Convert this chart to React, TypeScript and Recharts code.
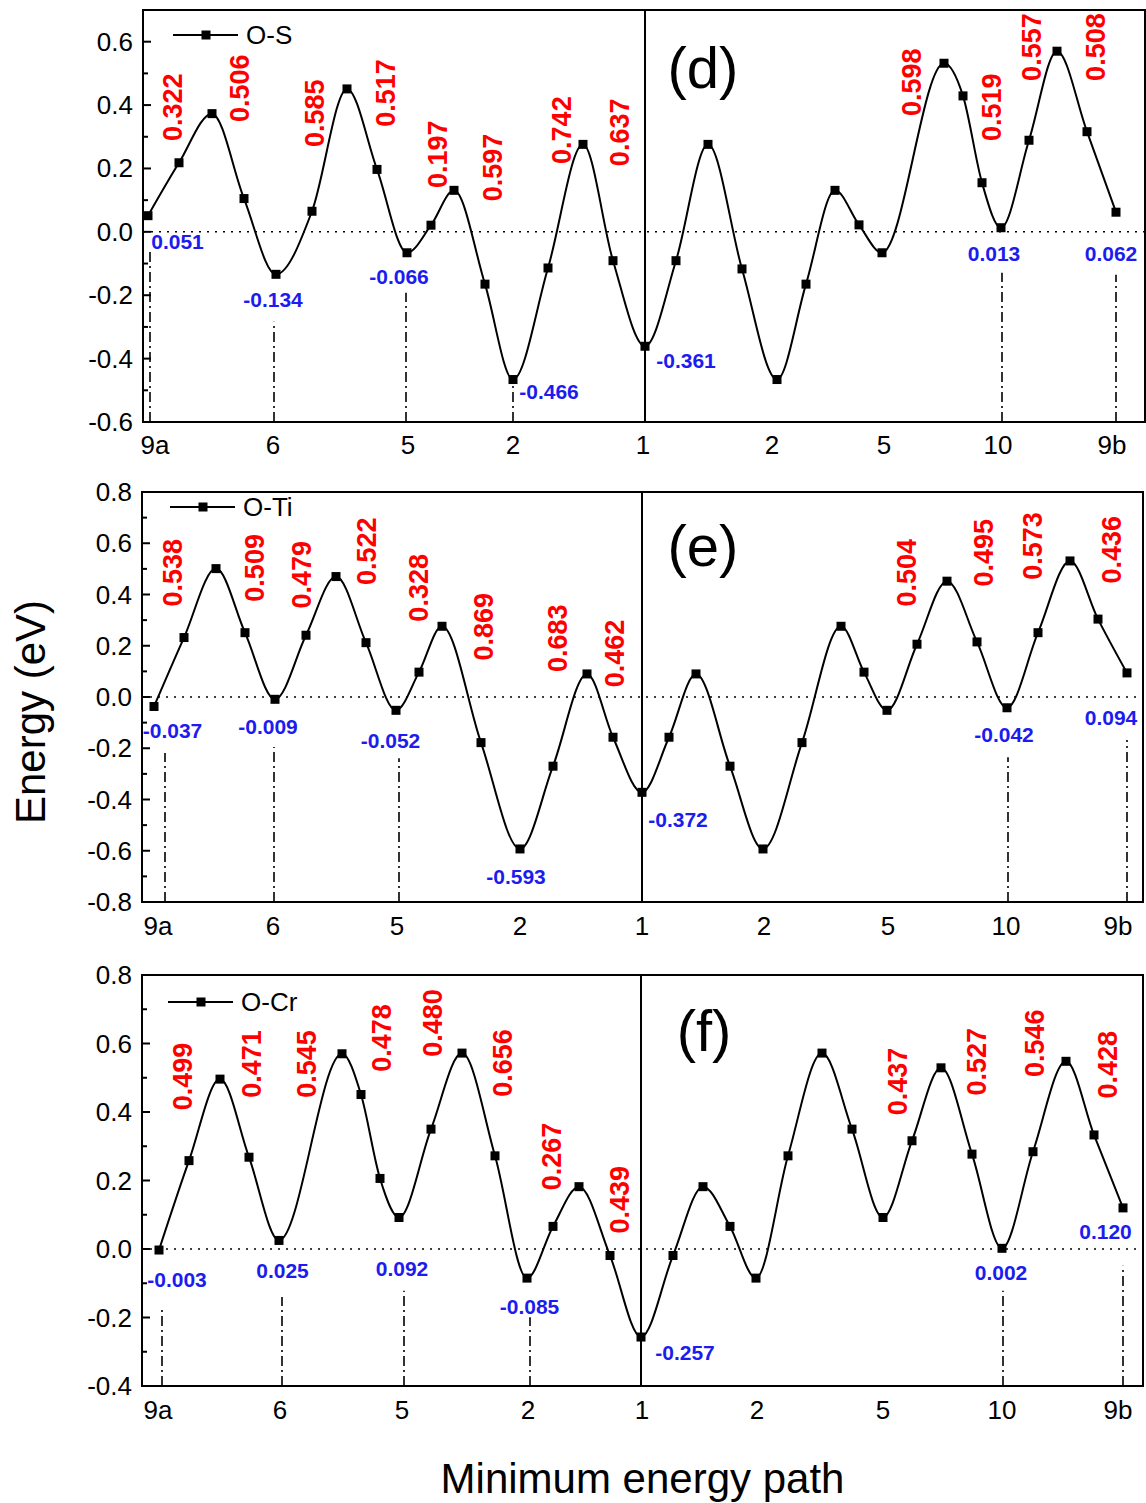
import {
  Legend,
  Line,
  LineChart,
  ReferenceArea,
  ReferenceDot,
  ReferenceLine,
  XAxis,
  YAxis,
} from "recharts";

// site labels along the minimum energy path
const pathSites = ["9a", "6", "5", "2", "1", "2", "5", "10", "9b"];

// ---- (d) O-S ----
const coordD = [0.5, 3.6, 6.9, 10.1, 13.3, 16.9, 20.4, 23.4, 26.4, 28.8, 31.1, 34.2, 37.0, 40.5, 44.0, 47.0, 50.2, 53.3, 56.5, 59.9, 63.4, 66.3, 69.2, 71.6, 73.9, 80.1, 82.0, 83.9, 85.8, 88.6, 91.4, 94.4, 97.3];
const energyD = [0.051, 0.218, 0.373, 0.105, -0.134, 0.065, 0.451, 0.197, -0.066, 0.021, 0.131, -0.165, -0.466, -0.114, 0.276, -0.091, -0.361, -0.091, 0.276, -0.117, -0.466, -0.165, 0.131, 0.022, -0.066, 0.532, 0.429, 0.155, 0.013, 0.289, 0.570, 0.316, 0.062];
const siteTicksD = [1.2, 13.0, 26.5, 37.0, 50.0, 62.9, 74.1, 85.5, 96.9];
const yTicksD = [-0.6, -0.5, -0.4, -0.3, -0.2, -0.1, 0, 0.1, 0.2, 0.3, 0.4, 0.5, 0.6];
const dropsD = [
  { x: 0.7, top: -0.056 },
  { x: 13.1, top: -0.284 },
  { x: 26.3, top: -0.192 },
  { x: 37.0, top: -0.477 },
  { x: 85.9, top: -0.129 },
  { x: 97.3, top: -0.135 },
];
const minimaD = [
  { text: "0.051", x: 3.45, y: -0.031 },
  { text: "-0.134", x: 13.0, y: -0.214 },
  { text: "-0.066", x: 25.6, y: -0.141 },
  { text: "-0.466", x: 40.6, y: -0.505 },
  { text: "-0.361", x: 54.3, y: -0.407 },
  { text: "0.013", x: 85.1, y: -0.069 },
  { text: "0.062", x: 96.8, y: -0.069 },
];
const barriersD = [
  { text: "0.322", x: 3.0, y: 0.393 },
  { text: "0.506", x: 9.7, y: 0.453 },
  { text: "0.585", x: 17.2, y: 0.374 },
  { text: "0.517", x: 24.3, y: 0.438 },
  { text: "0.197", x: 29.5, y: 0.245 },
  { text: "0.597", x: 35.0, y: 0.203 },
  { text: "0.742", x: 41.9, y: 0.321 },
  { text: "0.637", x: 47.7, y: 0.314 },
  { text: "0.598", x: 76.9, y: 0.472 },
  { text: "0.519", x: 84.9, y: 0.393 },
  { text: "0.557", x: 88.9, y: 0.583 },
  { text: "0.508", x: 95.3, y: 0.583 },
];

// ---- (e) O-Ti ----
const coordE = [1.2, 4.2, 7.4, 10.3, 13.3, 16.4, 19.4, 22.4, 25.4, 27.7, 30.0, 33.9, 37.8, 41.1, 44.5, 47.1, 50.0, 52.7, 55.4, 58.8, 62.1, 66.0, 69.9, 72.2, 74.5, 77.5, 80.5, 83.5, 86.5, 89.6, 92.8, 95.6, 98.5];
const energyE = [-0.037, 0.232, 0.501, 0.251, -0.009, 0.241, 0.470, 0.212, -0.052, 0.097, 0.276, -0.178, -0.593, -0.270, 0.090, -0.157, -0.372, -0.157, 0.090, -0.270, -0.593, -0.178, 0.276, 0.097, -0.052, 0.206, 0.452, 0.215, -0.042, 0.251, 0.531, 0.304, 0.094];
const siteTicksE = [1.6, 13.1, 25.5, 37.8, 50.0, 62.2, 74.6, 86.4, 97.6];
const yTicksE = [-0.8, -0.7, -0.6, -0.5, -0.4, -0.3, -0.2, -0.1, 0, 0.1, 0.2, 0.3, 0.4, 0.5, 0.6, 0.7, 0.8];
const dropsE = [
  { x: 2.3, top: -0.219 },
  { x: 13.2, top: -0.195 },
  { x: 25.7, top: -0.239 },
  { x: 86.6, top: -0.235 },
  { x: 98.5, top: -0.168 },
];
const minimaE = [
  { text: "-0.037", x: 3.05, y: -0.129 },
  { text: "-0.009", x: 12.6, y: -0.116 },
  { text: "-0.052", x: 24.85, y: -0.168 },
  { text: "-0.593", x: 37.4, y: -0.699 },
  { text: "-0.372", x: 53.6, y: -0.478 },
  { text: "-0.042", x: 86.2, y: -0.148 },
  { text: "0.094", x: 96.9, y: -0.079 },
];
const barriersE = [
  { text: "0.538", x: 3.1, y: 0.485 },
  { text: "0.509", x: 11.3, y: 0.504 },
  { text: "0.479", x: 16.0, y: 0.477 },
  { text: "0.522", x: 22.5, y: 0.569 },
  { text: "0.328", x: 27.7, y: 0.426 },
  { text: "0.869", x: 34.2, y: 0.274 },
  { text: "0.683", x: 41.6, y: 0.229 },
  { text: "0.462", x: 47.3, y: 0.17 },
  { text: "0.504", x: 76.5, y: 0.485 },
  { text: "0.495", x: 84.2, y: 0.563 },
  { text: "0.573", x: 89.1, y: 0.589 },
  { text: "0.436", x: 97.0, y: 0.575 },
];

// ---- (f) O-Cr ----
const coordF = [1.7, 4.7, 7.8, 10.7, 13.7, 20.0, 21.9, 23.8, 25.7, 28.9, 32.0, 35.3, 38.5, 41.1, 43.7, 46.8, 49.9, 53.1, 56.1, 58.8, 61.4, 64.6, 68.0, 71.0, 74.1, 77.0, 79.9, 83.0, 86.0, 89.1, 92.4, 95.2, 98.1];
const energyF = [-0.003, 0.258, 0.496, 0.268, 0.025, 0.570, 0.451, 0.206, 0.092, 0.350, 0.572, 0.272, -0.085, 0.066, 0.182, -0.019, -0.257, -0.019, 0.182, 0.066, -0.085, 0.272, 0.572, 0.350, 0.092, 0.316, 0.529, 0.277, 0.002, 0.284, 0.548, 0.333, 0.120];
const siteTicksF = [1.6, 13.8, 26.0, 38.6, 50.0, 61.5, 74.1, 86.0, 97.6];
const yTicksF = [-0.4, -0.3, -0.2, -0.1, 0, 0.1, 0.2, 0.3, 0.4, 0.5, 0.6, 0.7, 0.8];
const dropsF = [
  { x: 2.0, top: -0.17 },
  { x: 14.0, top: -0.14 },
  { x: 26.2, top: -0.122 },
  { x: 38.8, top: -0.199 },
  { x: 86.1, top: -0.122 },
  { x: 98.1, top: -0.049 },
];
const minimaF = [
  { text: "-0.003", x: 3.5, y: -0.088 },
  { text: "0.025", x: 14.05, y: -0.063 },
  { text: "0.092", x: 26.0, y: -0.058 },
  { text: "-0.085", x: 38.75, y: -0.168 },
  { text: "-0.257", x: 54.3, y: -0.302 },
  { text: "0.002", x: 85.9, y: -0.07 },
  { text: "0.120", x: 96.35, y: 0.052 },
];
const barriersF = [
  { text: "0.499", x: 4.1, y: 0.504 },
  { text: "0.471", x: 11.0, y: 0.54 },
  { text: "0.545", x: 16.5, y: 0.54 },
  { text: "0.478", x: 24.0, y: 0.616 },
  { text: "0.480", x: 29.1, y: 0.66 },
  { text: "0.656", x: 36.1, y: 0.543 },
  { text: "0.267", x: 41.0, y: 0.27 },
  { text: "0.439", x: 47.8, y: 0.144 },
  { text: "0.437", x: 75.6, y: 0.489 },
  { text: "0.527", x: 83.5, y: 0.547 },
  { text: "0.546", x: 89.3, y: 0.601 },
  { text: "0.428", x: 96.6, y: 0.538 },
];

const FONT = "'Liberation Sans', Arial, sans-serif";

const panels = [
  {
    name: "O-S", letter: "(d)", letterAt: { x: 56.0, y: 0.52 },
    coord: coordD, energy: energyD, siteTicks: siteTicksD, yTicks: yTicksD,
    drops: dropsD, minima: minimaD, barriers: barriersD,
    centre: 50.2, xMax: 100.2, yDomain: [-0.6, 0.7] as [number, number],
    top: 0, height: 465, margin: { top: 10, right: 1, bottom: 8, left: 63 },
    legend: { left: 173, top: 20 }, xTickMargin: 14,
  },
  {
    name: "O-Ti", letter: "(e)", letterAt: { x: 56.1, y: 0.592 },
    coord: coordE, energy: energyE, siteTicks: siteTicksE, yTicks: yTicksE,
    drops: dropsE, minima: minimaE, barriers: barriersE,
    centre: 50.0, xMax: 100.1, yDomain: [-0.8, 0.8] as [number, number],
    top: 470, height: 470, margin: { top: 22, right: 3, bottom: 3, left: 62 },
    legend: { left: 170, top: 22 }, xTickMargin: 15, yTitle: true,
  },
  {
    name: "O-Cr", letter: "(f)", letterAt: { x: 56.2, y: 0.637 },
    coord: coordF, energy: energyF, siteTicks: siteTicksF, yTicks: yTicksF,
    drops: dropsF, minima: minimaF, barriers: barriersF,
    centre: 49.9, xMax: 100.1, yDomain: [-0.4, 0.8] as [number, number],
    top: 950, height: 553, margin: { top: 25, right: 3, bottom: 82, left: 62 },
    legend: { left: 168, top: 37 }, xTickMargin: 15, xTitle: true,
  },
];

function YTick(props: any) {
  const { x, y, payload } = props;
  const v = payload.value;
  const major = Math.round(v * 10) % 2 === 0;
  const axisX = x + 10;
  return (
    <g>
      <line x1={axisX} x2={axisX + (major ? 8 : 5)} y1={y} y2={y} stroke="#000" strokeWidth={2} />
      {major && (
        <text x={x} y={y} textAnchor="end" dominantBaseline="central" fontSize={26} fill="#000">
          {v.toFixed(1)}
        </text>
      )}
    </g>
  );
}

const squareDot = (p: any) => (
  <rect key={`sq-${p.index}`} x={p.cx - 4.5} y={p.cy - 4.5} width={9} height={9} fill="#000" />
);

function LegendBox({ name }: { name: string }) {
  return (
    <svg width={150} height={30} style={{ display: "block" }}>
      <line x1={0} y1={15} x2={65} y2={15} stroke="#000" strokeWidth={2} />
      <rect x={28.5} y={10.5} width={9} height={9} fill="#000" />
      <text x={73} y={15} dominantBaseline="central" fontSize={26} fill="#000" fontFamily={FONT}>
        {name}
      </text>
    </svg>
  );
}

function Panel({ cfg }: { cfg: (typeof panels)[number] }) {
  const data = cfg.coord.map((x, i) => ({ x, e: cfg.energy[i] }));
  const [yMin, yMax] = cfg.yDomain;
  return (
    <div style={{ position: "absolute", left: 0, top: cfg.top }}>
      <LineChart width={1146} height={cfg.height} data={data} margin={cfg.margin}>
        <XAxis
          dataKey="x"
          type="number"
          domain={[0, cfg.xMax]}
          ticks={cfg.siteTicks}
          interval={0}
          tickFormatter={(_v: number, i: number) => pathSites[i]}
          tickLine={false}
          tickSize={0}
          tickMargin={cfg.xTickMargin}
          axisLine={false}
          height={35}
          tick={{ fontSize: 26, fill: "#000" }}
          allowDataOverflow
          label={
            (cfg as any).xTitle
              ? (p: any) => (
                  <text
                    x={p.viewBox.x + p.viewBox.width / 2}
                    y={p.viewBox.y + 92}
                    textAnchor="middle"
                    dominantBaseline="central"
                    fontSize={42}
                    fill="#000"
                  >
                    Minimum energy path
                  </text>
                )
              : undefined
          }
        />
        <YAxis
          type="number"
          domain={cfg.yDomain}
          ticks={cfg.yTicks}
          interval={0}
          tickLine={false}
          tickSize={0}
          tickMargin={10}
          axisLine={false}
          width={80}
          tick={(p: any) => <YTick {...p} />}
          allowDataOverflow
          label={
            (cfg as any).yTitle
              ? (p: any) => (
                  <text
                    transform={`translate(${p.viewBox.x - 32}, ${p.viewBox.y + p.viewBox.height / 2 + 15}) rotate(-90)`}
                    textAnchor="middle"
                    dominantBaseline="central"
                    fontSize={42}
                    fill="#000"
                  >
                    Energy (eV)
                  </text>
                )
              : undefined
          }
        />
        <ReferenceLine y={0} stroke="#000" strokeWidth={1.5} strokeDasharray="2 6" />
        <ReferenceLine x={cfg.centre} stroke="#000" strokeWidth={2} />
        {cfg.drops.map((d, i) => (
          <ReferenceLine
            key={`drop-${i}`}
            segment={[{ x: d.x, y: yMin }, { x: d.x, y: d.top }]}
            stroke="#000"
            strokeWidth={1.6}
            strokeDasharray="10 4 2 4"
          />
        ))}
        <ReferenceArea x1={0} x2={cfg.xMax} y1={yMin} y2={yMax} fill="none" stroke="#000" strokeWidth={2} />
        <Line
          dataKey="e"
          name={cfg.name}
          type="monotoneX"
          stroke="#000"
          strokeWidth={2}
          dot={squareDot}
          activeDot={false}
          isAnimationActive={false}
        />
        {cfg.barriers.map((b, i) => (
          <ReferenceDot
            key={`bar-${i}`}
            x={b.x}
            y={b.y}
            r={0}
            shape={(p: any) => (
              <text
                x={p.cx}
                y={p.cy}
                transform={`rotate(-90, ${p.cx}, ${p.cy})`}
                textAnchor="middle"
                dominantBaseline="central"
                fontSize={27}
                fontWeight="bold"
                fill="#ff0000"
              >
                {b.text}
              </text>
            )}
          />
        ))}
        {cfg.minima.map((m, i) => (
          <ReferenceDot
            key={`min-${i}`}
            x={m.x}
            y={m.y}
            r={0}
            shape={(p: any) => (
              <text
                x={p.cx}
                y={p.cy}
                textAnchor="middle"
                dominantBaseline="central"
                fontSize={21}
                fontWeight="bold"
                fill="#1c1cf0"
              >
                {m.text}
              </text>
            )}
          />
        ))}
        <ReferenceDot
          x={cfg.letterAt.x}
          y={cfg.letterAt.y}
          r={0}
          shape={(p: any) => (
            <text x={p.cx} y={p.cy} textAnchor="middle" dominantBaseline="central" fontSize={58} fill="#000">
              {cfg.letter}
            </text>
          )}
        />
        <Legend
          layout="vertical"
          align="center"
          verticalAlign="middle"
          wrapperStyle={{ left: cfg.legend.left, top: cfg.legend.top, width: 150, height: 30 }}
          content={() => <LegendBox name={cfg.name} />}
        />
      </LineChart>
    </div>
  );
}

export default function App() {
  return (
    <div
      style={{
        position: "absolute",
        left: 0,
        top: 0,
        width: 1146,
        height: 1503,
        background: "#fff",
        fontFamily: FONT,
      }}
    >
      {panels.map((p) => (
        <Panel key={p.name} cfg={p} />
      ))}
    </div>
  );
}
